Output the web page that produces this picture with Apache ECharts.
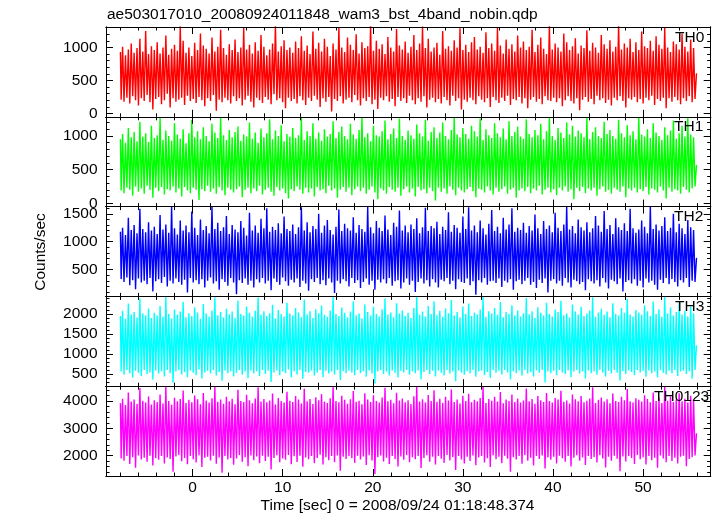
<!DOCTYPE html>
<html>
<head>
<meta charset="utf-8">
<script src="https://cdn.jsdelivr.net/npm/echarts@6/dist/echarts.min.js"></script>
<style>
html,body{margin:0;padding:0;background:#fff;}
#chart{width:717px;height:516px;}
</style>
</head>
<body>
<div id="chart"></div>
<script>
// Light curves (counts/sec), one value per 0.16 s bin
const tStart = -8;
const binSec = 0.16;
const th0 = [
930,210,1010,180,880,240,970,150,1060,260,920,200,990,120,1130,230,940,190,1250,280,
900,170,1020,60,960,220,1080,250,910,140,1000,200,1180,300,890,90,980,230,1040,180,
950,210,1320,240,1100,130,920,270,1000,190,870,220,1070,160,960,250,1210,200,1030,110,
980,230,910,190,1150,280,940,40,1010,210,1270,170,990,240,890,200,1050,150,960,260,
1120,190,930,230,1000,120,1300,210,970,270,1040,180,910,90,1080,240,950,200,1190,160,
1010,250,880,210,970,140,1060,290,1340,200,940,230,1020,170,1110,80,960,240,1000,190,
920,220,1090,150,990,260,1170,200,950,130,1030,240,900,190,1240,270,980,210,1070,100,
940,230,1130,180,1010,250,870,30,1060,220,970,190,1310,260,1000,150,930,210,1150,240,
1040,170,960,280,1200,200,910,120,1080,230,990,190,1020,250,1350,140,950,210,1100,70,
980,240,1050,200,900,260,1160,180,1000,220,940,110,1280,250,1030,190,970,230,1090,160,
920,270,1010,200,1190,140,960,230,1060,180,1320,260,990,90,1130,210,940,240,1000,170,
1070,220,890,150,1250,250,980,200,1020,120,950,270,1110,190,1000,230,1290,60,960,210,
1040,180,930,240,1080,200,1160,140,970,260,1010,210,920,170,1230,230,990,100,1060,250,
950,200,1300,160,1030,240,910,190,1120,270,980,130,1050,220,940,200,1180,250,1000,150,
1090,230,960,80,1010,210,1270,250,930,180,1040,220,1150,140,980,260,900,200,1330,190,
970,240,1060,170,1000,230,940,110,1210,200,1080,260,960,190,1020,150,1140,230,910,50,
1030,210,990,250,1260,180,950,220,1070,140,1000,270,920,200,1190,230,1050,160,980,210,
1110,120,940,240,1010,200,1340,260,970,190,1060,90,1000,230,1130,210,930,250,1080,170,
960,220,1240,150,1020,240,990,200,1100,270,950,130,1170,220,1040,190,980,240,1300,80,
1000,230,930,180,1090,250,1050,200,970,140,1210,230,1010,190,940,260,1120,170,990,220,
600];
const th1 = [
950,190,1030,150,900,230,1120,200,980,110,1060,250,920,170,1210,220,990,140,1040,260,
910,200,1150,80,970,230,1010,180,1270,240,940,130,1080,210,1000,190,930,250,1190,160,
1020,220,960,100,1100,240,890,190,1040,150,1240,230,980,200,1070,50,950,210,1130,180,
1000,260,920,170,1180,220,1050,140,970,240,1280,190,1010,120,940,230,1090,200,980,160,
1060,210,1140,250,930,90,1020,200,990,230,1200,150,960,220,1050,180,900,260,1110,130,
980,200,1040,230,1250,170,950,110,1080,240,1000,190,1160,220,920,150,1030,70,990,210,
1120,180,970,250,1010,200,1270,140,940,230,1070,160,1000,220,1190,100,960,240,1050,190,
930,210,1100,150,990,260,1030,190,1220,220,970,80,1060,200,1140,240,1000,170,950,230,
1180,120,1020,210,960,250,1090,180,1280,230,980,140,1040,200,920,250,1150,160,1010,60,
990,220,1070,190,1230,140,950,240,1030,200,1110,170,970,230,1260,110,1000,210,940,250,
1080,160,1010,220,960,100,1170,240,1040,190,990,210,1240,150,930,230,1060,180,1130,40,
970,230,1050,170,1200,220,1000,140,950,250,1090,200,1280,120,1020,230,980,190,1120,160,
1030,210,960,240,1150,180,1070,90,990,220,1260,200,940,160,1100,250,1010,190,970,130,
1190,230,1040,170,980,210,1110,250,950,140,1220,200,1000,230,1060,80,1140,190,990,220,
960,180,1250,240,1030,150,980,220,1090,190,1010,260,1180,130,950,200,1070,230,1280,160,
1000,210,940,120,1120,230,1050,190,970,250,1200,170,1020,210,1150,60,990,230,1080,180,
1040,240,980,150,1270,220,950,190,1060,230,1130,110,1000,210,970,250,1210,170,1030,200,
1090,140,1000,230,960,200,1240,170,1040,250,980,90,1160,220,1010,190,1070,230,950,160,
1280,210,1020,180,990,240,1100,130,970,220,1190,200,1050,160,1000,250,940,190,1130,70,
1010,230,1080,170,1230,210,960,190,1040,140,1150,240,990,200,1270,160,1020,220,980,250,
560];
const th2 = [
1180,330,1250,280,1120,360,1430,220,1210,310,1300,150,1150,340,1590,270,1230,300,1170,240,
1350,350,1200,110,1270,290,1140,330,1480,260,1220,370,1310,200,1160,300,1640,250,1240,340,
1130,280,1380,230,1200,320,1290,90,1170,350,1540,270,1250,310,1120,240,1400,330,1210,180,
1280,300,1150,360,1630,250,1230,290,1340,140,1190,330,1260,280,1460,210,1140,350,1300,270,
1220,60,1170,310,1370,260,1250,340,1110,230,1520,300,1200,180,1290,330,1160,270,1410,350,
1240,250,1600,300,1180,130,1270,340,1210,280,1330,230,1150,360,1450,290,1230,210,1190,320,
1310,270,1140,340,1260,190,1620,300,1200,250,1350,120,1170,330,1280,280,1230,350,1500,240,
1160,310,1290,220,1390,340,1210,270,1130,80,1270,300,1580,250,1190,330,1320,290,1240,200,
1200,350,1440,260,1160,310,1300,170,1230,280,1180,340,1630,230,1260,300,1150,140,1370,320,
1250,270,1190,330,1470,250,1220,350,1120,210,1340,290,1270,310,1560,160,1200,270,1290,340,
1170,230,1310,300,1230,100,1420,280,1150,340,1260,250,1610,310,1190,200,1280,330,1240,270,
1360,180,1140,320,1270,290,1210,350,1530,240,1180,300,1300,150,1250,330,1160,280,1450,260,
1230,340,1620,220,1200,290,1290,50,1170,310,1380,270,1240,350,1130,230,1320,290,1570,300,
1190,260,1270,340,1150,190,1430,300,1220,270,1310,330,1600,140,1180,290,1250,320,1210,240,
1340,300,1160,350,1280,230,1200,280,1490,170,1240,320,1140,260,1370,340,1230,90,1290,300,
1170,330,1520,250,1250,300,1190,210,1310,350,1630,270,1220,180,1280,320,1150,290,1400,240,
1260,280,1200,130,1350,330,1170,290,1240,250,1460,310,1290,200,1180,350,1550,270,1230,160,
1300,320,1140,290,1420,240,1260,340,1210,110,1330,280,1190,310,1590,250,1240,330,1160,210,
1220,300,1380,180,1270,340,1150,270,1640,300,1230,230,1310,140,1200,320,1280,260,1440,350,
1190,240,1250,330,1500,280,1170,200,1320,310,1240,270,1140,350,1390,190,1260,300,1210,280,
700];
const th3 = [
1950,560,2080,480,1880,600,2260,520,1990,410,2050,580,1910,530,2390,450,2010,600,1970,500,
2140,540,1900,360,2030,590,1960,510,2200,570,1930,440,2440,600,2000,520,1890,280,2110,560,
1980,600,2060,490,2300,550,1920,420,2020,590,1950,530,2170,470,2040,610,1880,390,2250,540,
2010,580,1940,510,2090,600,2420,460,1970,550,2050,330,1910,590,2130,520,1990,570,2060,440,
1900,530,2340,600,2000,480,1960,560,2190,400,2030,590,1930,510,2080,570,2410,450,1980,600,
2070,500,1950,580,2020,300,2230,540,1890,590,2100,470,2000,560,1940,520,2280,610,2010,420,
1960,570,2150,490,2040,600,1920,380,2360,550,1990,530,2070,590,1900,460,2120,540,2020,600,
2210,420,1980,580,1930,510,2090,560,2440,490,2000,600,1950,350,2160,570,2030,520,1910,590,
2060,540,2310,470,1970,600,2010,520,1890,570,2240,430,2050,590,1960,510,2180,260,2000,560,
1940,600,2120,500,2390,560,1990,460,2040,590,1920,530,2270,410,2010,580,2090,540,1950,600,
2030,480,1900,570,2150,520,2430,590,1980,370,2060,550,1940,600,2200,500,2000,580,2320,440,
1970,590,2080,530,1930,460,2140,600,2020,510,2350,560,1960,320,2050,590,1910,540,2190,480,
2000,570,2260,510,1950,600,2040,430,1990,560,2110,590,2440,470,1930,550,2070,400,2010,600,
2150,530,1980,580,2300,490,1920,600,2050,540,2000,360,2220,570,1960,520,2090,590,1940,460,
2020,600,2400,510,1990,550,2070,440,1900,590,2170,530,2030,600,1960,290,2280,560,2000,520,
1940,580,2110,470,2050,600,2330,540,1970,500,2020,590,1910,420,2240,560,2060,600,1990,510,
2180,560,1950,390,2010,590,2090,520,2420,570,1930,480,2040,600,2130,540,1980,440,2060,580,
1920,510,2270,600,2000,530,1960,340,2150,570,2030,500,2380,590,1990,550,1940,470,2100,600,
2040,540,1980,580,2210,430,2070,590,1950,520,2310,560,2000,410,2120,600,1930,530,2440,490,
2010,580,2160,520,1960,600,2050,450,2290,560,1990,590,2080,500,1940,570,2190,380,2020,600,
1200];
const th0123 = [
3920,1900,4080,1820,3850,1990,4310,1700,3980,1950,4050,1560,3890,2010,4470,1860,4010,1930,3940,1780,
4160,2000,3870,1640,4030,1910,3960,1850,4240,1990,3910,1720,4540,1940,4000,1880,3860,1420,4120,1970,
3990,2030,4070,1800,4380,1920,3930,1690,4040,1990,3950,1870,4200,1750,4060,2020,3880,1590,4290,1930,
4020,1960,3940,1830,4100,2000,4520,1710,3970,1940,4050,1380,3900,1990,4150,1860,3990,1920,4080,1670,
3880,1900,4410,2030,4000,1780,3960,1950,4230,1620,4030,2010,3920,1840,4090,1970,4500,1730,3980,2000,
4070,1810,3950,1960,4020,1500,4270,1920,3870,2020,4110,1760,4000,1900,3940,1850,4340,2030,4010,1690,
3960,1980,4180,1770,4050,2000,3910,1600,4450,1940,3990,1870,4070,1990,3890,1730,4140,1920,4030,2040,
4250,1680,3980,1950,3930,1840,4100,1990,4540,1760,4000,2010,3950,1450,4190,1960,4040,1880,3900,1990,
4060,1910,4360,1740,3970,2000,4010,1860,3880,1970,4280,1660,4050,2020,3960,1830,4210,1330,4000,1950,
3940,2010,4130,1790,4480,1930,3990,1700,4040,1990,3920,1880,4300,1610,4020,1970,4090,1850,3950,2030,
4030,1760,3890,1950,4170,1870,4530,1990,3980,1550,4060,1920,3940,2020,4220,1780,4000,1960,4390,1680,
3970,1990,4080,1890,3930,1740,4150,2030,4020,1830,4420,1950,3960,1480,4050,1990,3910,1860,4190,1720,
4000,1960,4260,1810,3950,2010,4040,1650,3990,1940,4110,1990,4540,1750,3930,1910,4070,1590,4010,2020,
4150,1870,3980,1960,4330,1730,3920,2000,4050,1890,4000,1420,4240,1950,3960,1860,4090,1990,3940,1710,
4020,2030,4460,1820,3990,1930,4070,1640,3900,1990,4180,1880,4030,2010,3960,1530,4290,1940,4000,1850,
3940,1960,4110,1720,4050,2000,4370,1910,3970,1780,4020,1990,3910,1610,4240,1930,4060,2020,3990,1820,
4180,1940,3950,1660,4010,1990,4090,1880,4500,1950,3930,1750,4040,2020,4130,1900,3980,1570,4060,1960,
3920,1820,4270,2000,4000,1890,3960,1430,4150,1970,4030,1790,4440,1990,3990,1920,3940,1700,4100,2030,
4040,1870,3980,1950,4210,1680,4070,1990,3950,1840,4310,1930,4000,1560,4120,2010,3930,1900,4540,1760,
4010,1990,4160,1810,3960,1930,4050,1720,4280,1960,3990,2000,4080,1620,3940,1880,4190,1950,4020,2010,
2800];

const panelNames = ['TH0', 'TH1', 'TH2', 'TH3', 'TH0123'];
const panelData = [th0, th1, th2, th3, th0123];
const yMin = [-50, -50, 20, 195, 1260];
const yMax = [1310, 1285, 1630, 2440, 4540];
const yTickLabels = [[0, 500, 1000], [0, 500, 1000], [500, 1000, 1500], [500, 1000, 1500, 2000], [2000, 3000, 4000]];
const yMinorStep = [100, 100, 100, 100, 200];
const xMin = -9.6, xMax = 57.5;
const xTickLabels = [0, 10, 20, 30, 40, 50];
const xMinorStep = 2;
const titleText = 'ae503017010_20080924011848_wam3_bst_4band_nobin.qdp';
const xName = 'Time [sec] 0 = 2008/09/24 01:18:48.374';
const yName = 'Counts/sec';

// Styling
const colors = ['#ff0000', '#00ff00', '#0000ff', '#00ffff', '#ff00ff'];
const FONT = '"Liberation Sans", Arial, Helvetica, sans-serif';
const FS = 15.5;
const gridLeft = 106, gridWidth = 604.7, gridTop0 = 27, gridH = 89.8;
const labelX = [675, 674, 674, 675, 654];

function rangeVals(lo, hi, step) {
  const out = [];
  for (let v = Math.ceil(lo / step) * step; v <= hi + 1e-9; v += step) out.push(Math.round(v * 1000) / 1000);
  return out;
}
const xMinorVals = rangeVals(xMin, xMax, xMinorStep);

const grids = [], xAxes = [], yAxes = [], series = [], graphics = [];
const lineC = '#000';
const plain = v => String(v);

function xAx(g, pos, vals, len, labels) {
  return {
    type: 'value', gridIndex: g, position: pos, min: xMin, max: xMax, z: 5,
    axisLine: { show: true, onZero: false, lineStyle: { color: lineC, width: 1 } },
    axisTick: { show: true, inside: true, length: len, customValues: vals, lineStyle: { color: lineC, width: 1 } },
    axisLabel: labels ? { show: true, customValues: labels, formatter: plain, margin: 4, color: '#000', fontSize: FS, fontFamily: FONT } : { show: false },
    splitLine: { show: false }
  };
}
function yAx(g, pos, vals, len, labels) {
  return {
    type: 'value', gridIndex: g, position: pos, min: yMin[g], max: yMax[g], z: 5,
    axisLine: { show: true, onZero: false, lineStyle: { color: lineC, width: 1 } },
    axisTick: { show: true, inside: true, length: len, customValues: vals, lineStyle: { color: lineC, width: 1 } },
    axisLabel: labels ? { show: true, customValues: labels, formatter: plain, margin: 8.5, color: '#000', fontSize: FS, fontFamily: FONT } : { show: false },
    splitLine: { show: false }
  };
}

for (let g = 0; g < 5; g++) {
  const top = gridTop0 + g * gridH;
  grids.push({ left: gridLeft, width: gridWidth, top: top, height: gridH, containLabel: false });
  const isLast = g === 4;
  xAxes.push(xAx(g, 'bottom', xTickLabels, 7, isLast ? xTickLabels : null));
  xAxes.push(xAx(g, 'bottom', xMinorVals, 3.5, null));
  xAxes.push(xAx(g, 'top', xTickLabels, 7, null));
  xAxes.push(xAx(g, 'top', xMinorVals, 3.5, null));
  const yMinorVals = rangeVals(yMin[g], yMax[g], yMinorStep[g]);
  yAxes.push(yAx(g, 'left', yTickLabels[g], 7, yTickLabels[g]));
  yAxes.push(yAx(g, 'left', yMinorVals, 3.5, null));
  yAxes.push(yAx(g, 'right', yTickLabels[g], 7, null));
  yAxes.push(yAx(g, 'right', yMinorVals, 3.5, null));

  series.push({
    type: 'line', name: panelNames[g], xAxisIndex: g * 4, yAxisIndex: g * 4,
    data: panelData[g].map((v, i) => [tStart + i * binSec, v]),
    step: 'middle',
    showSymbol: false, symbol: 'none', sampling: null, clip: true,
    lineStyle: { color: colors[g], width: 1.4 }, itemStyle: { color: colors[g] },
    animation: false, silent: true, z: 2
  });

  graphics.push({
    type: 'text', x: labelX[g], y: top + 10.3, z: 10,
    style: { text: panelNames[g], fill: '#000', font: FS + 'px ' + FONT, align: 'left', verticalAlign: 'middle' }
  });
}

graphics.push({
  type: 'text', x: 107, y: 14.6,
  style: { text: titleText, fill: '#000', font: FS + 'px ' + FONT, align: 'left', verticalAlign: 'middle' }
});
graphics.push({
  type: 'text', x: 397.5, y: 506,
  style: { text: xName, fill: '#000', font: FS + 'px ' + FONT, align: 'center', verticalAlign: 'middle' }
});
graphics.push({
  type: 'text', x: 40.6, y: 252, rotation: Math.PI / 2,
  style: { text: yName, fill: '#000', font: FS + 'px ' + FONT, align: 'center', verticalAlign: 'middle' }
});

const chart = echarts.init(document.getElementById('chart'), null, { renderer: 'canvas' });
chart.setOption({
  backgroundColor: '#ffffff',
  animation: false,
  grid: grids,
  xAxis: xAxes,
  yAxis: yAxes,
  series: series,
  graphic: graphics
});
</script>
</body>
</html>
